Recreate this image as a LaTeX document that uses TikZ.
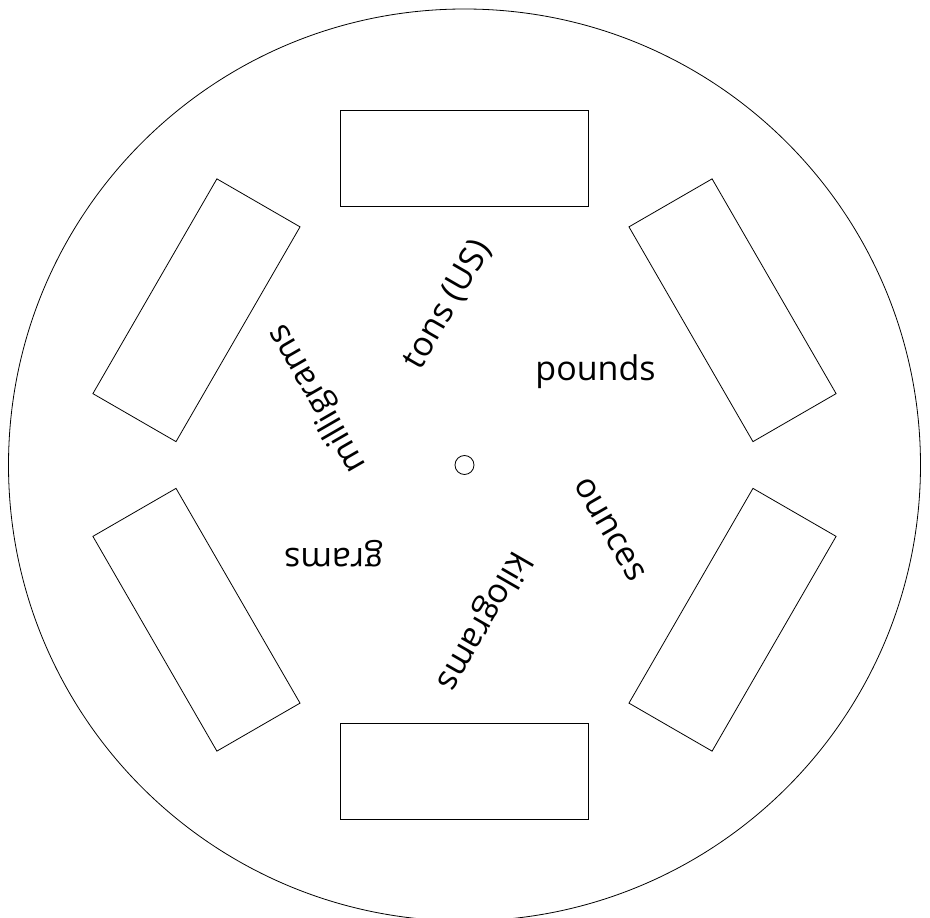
\documentclass[tikz,border=0pt]{standalone}
\usepackage{fontspec}
\setmainfont{Open Sans}
\usepackage{xcolor}
\usepackage{tikz}

\begin{document}
\begin{tikzpicture}[
  x=1pt, y=1pt,
  rim/.style={draw, circle, inner sep=0pt, line width=0.8pt},
  slot/.style={draw, rectangle, inner sep=0pt, minimum width=248pt, minimum height=96pt, line width=0.8pt},
  unit/.style={inner sep=0pt, font=\fontsize{34}{40}\selectfont},
]
\useasboundingbox (-464.5,-453) rectangle (465.5,465);

% Disc and hub
\node[rim, minimum size=912pt] (disc) at (0,0) {};
\node[rim, minimum size=19pt] (hub) at (0,0) {};

% Windows
\node[slot, rotate=0] (slotN) at (90:307) {};
\node[slot, rotate=-60] (slotNE) at (30:309.5) {};
\node[slot, rotate=-120] (slotSE) at (-30:309.5) {};
\node[slot, rotate=180] (slotS) at (-90:306) {};
\node[slot, rotate=120] (slotSW) at (-150:309.5) {};
\node[slot, rotate=60] (slotNW) at (150:309.5) {};

% Unit names
\node[unit, rotate=0] (pounds) at (35.5:161) {pounds};
\node[unit, rotate=60] (tons) at (96:161) {tons (US)};
\node[unit, rotate=120] (milligrams) at (155.5:161) {milligrams};
\node[unit, rotate=180] (grams) at (214:158) {grams};
\node[unit, rotate=240] (kilograms) at (276.5:157) {kilograms};
\node[unit, rotate=300] (ounces) at (336:159) {ounces};
\end{tikzpicture}
\end{document}
